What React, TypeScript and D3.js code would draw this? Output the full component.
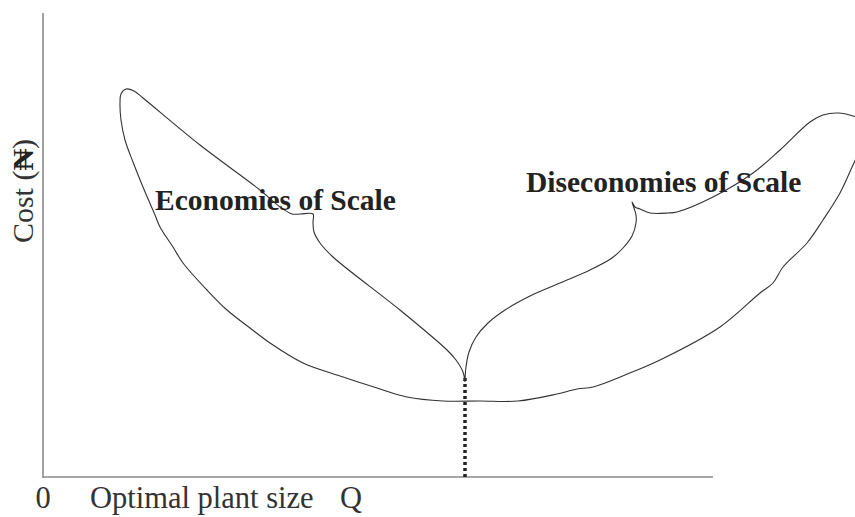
import React from "react";
import * as d3 from "d3";

// Data (plant size units along x, cost units along y)
const xDomain = [0, 670];
const yDomain = [0, 464];

// Economies-of-scale loop + diseconomies-of-scale loop traced as one outline
const curveX = [
  422, 420, 413, 404, 357, 290, 277, 271, 270, 270, 257, 249, 237, 217, 157, 100, 91, 83, 78, 77, 78, 82, 90, 100, 112, 117, 130, 140, 164, 184, 207, 227, 260, 294, 334, 364, 400, 437, 475,
  514, 534, 550, 582, 617, 677, 717, 730, 740, 764, 780, 797, 810, 819, 823, 819, 810, 795, 780, 767, 737, 710, 670, 634, 625, 607, 597, 592, 589, 591, 593, 593, 589, 580, 569, 547, 517, 487, 462, 445, 433, 426, 423, 422,
];
const curveY = [
  95, 105, 117, 127, 167, 220, 234, 245, 255, 263, 263, 263, 270, 287, 332, 379, 386, 388, 383, 374, 357, 337, 315, 290, 262, 250, 230, 214, 187, 167, 149, 134, 114, 102, 89, 80, 76, 76, 76,
  83, 88, 90, 102, 117, 150, 184, 194, 210, 234, 257, 284, 312, 332, 347, 357, 361, 364, 362, 355, 327, 304, 280, 265, 264, 264, 268, 270, 275, 269, 262, 254, 241, 229, 219, 207, 194, 181, 167, 154, 140, 125, 110, 97,
];

const dropX = [422, 422];
const dropY = [99, 0];

const labels = ["Economies of Scale", "Diseconomies of Scale"];
const labelX = [112, 483];
const labelY = [267, 285];

const axisTitleX = "Optimal plant size";
const axisEndX = "Q";
const originLabel = "0";
const axisTitleYText = "Cost (";
const axisTitleYSymbol = "₦";
const axisTitleYClose = ")";

export default function App() {
  const W = 855;
  const H = 517;
  const x = d3.scaleLinear().domain(xDomain).range([43, 713]);
  const y = d3.scaleLinear().domain(yDomain).range([477, 13]);

  const pts: [number, number][] = curveX.map((v, i) => [v, curveY[i]]);
  const line = d3
    .line<[number, number]>()
    .x((d) => x(d[0]))
    .y((d) => y(d[1]))
    .curve(d3.curveCatmullRom.alpha(0.5));

  const serif = "'Liberation Serif', 'Times New Roman', serif";
  const axisColor = "#8a8a8a";

  return (
    <svg
      width={W}
      height={H}
      style={{ position: "absolute", left: 0, top: 0, background: "#fff" }}
    >
      {/* axes */}
      <line x1={x(0)} x2={x(0)} y1={y(464)} y2={y(0) + 1} stroke={axisColor} strokeWidth={1.6} />
      <line x1={x(0)} x2={x(670)} y1={y(0)} y2={y(0)} stroke={axisColor} strokeWidth={1.6} />

      {/* dotted drop line at optimal size */}
      <line
        x1={x(dropX[0])}
        x2={x(dropX[1])}
        y1={y(dropY[0])}
        y2={y(dropY[1])}
        stroke="#222"
        strokeWidth={3.5}
        strokeDasharray="3,3"
      />

      {/* LAC outline */}
      <path d={line(pts) || ""} fill="none" stroke="#333" strokeWidth={1.1} />

      {/* labels */}
      {labels.map((t, i) => (
        <text
          key={t}
          x={x(labelX[i])}
          y={y(labelY[i])}
          fontFamily={serif}
          fontWeight="bold"
          fontSize={29.5}
          fill="#222"
        >
          {t}
        </text>
      ))}

      <text x={x(0)} y={508} fontFamily={serif} fontSize={30.5} textAnchor="middle" fill="#333">
        {originLabel}
      </text>
      <text x={90} y={508} fontFamily={serif} fontSize={30.5} fill="#333">
        {axisTitleX}
      </text>
      <text x={340} y={508} fontFamily={serif} fontSize={30.5} fill="#333">
        {axisEndX}
      </text>

      <text
        transform="translate(33,191) rotate(-90)"
        fontFamily={serif}
        fontSize={30}
        textAnchor="middle"
        fill="#333"
      >
        {axisTitleYText}
        <tspan fontWeight="bold" fill="#222">{axisTitleYSymbol}</tspan>
        {axisTitleYClose}
      </text>
    </svg>
  );
}
